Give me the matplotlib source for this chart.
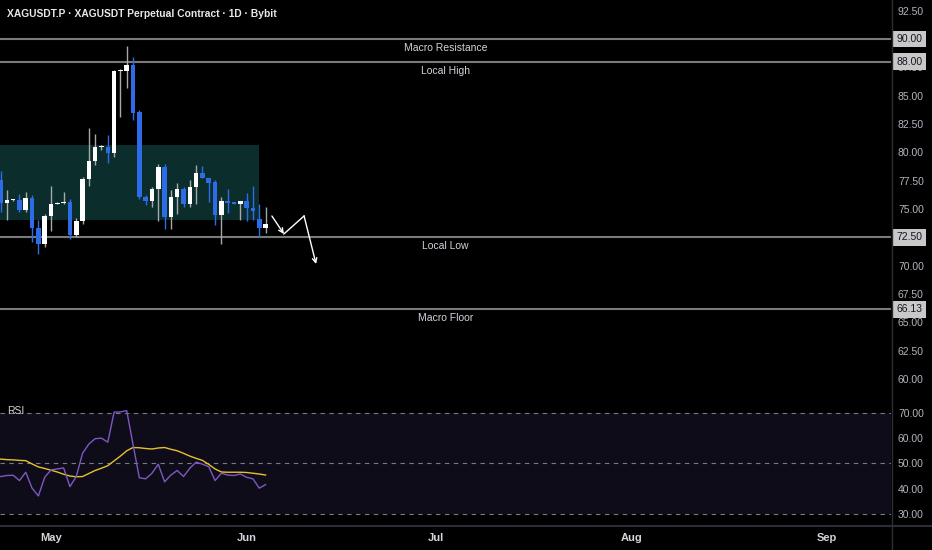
import numpy as np
import pandas as pd
import matplotlib
matplotlib.use('Agg')
import matplotlib.pyplot as plt
import matplotlib.dates as mdates
from matplotlib.lines import Line2D

# daily candles
start_date = '2026-04-23'
opens = [77.56, 75.53, 75.79, 75.79, 74.91, 75.97, 73.32, 71.91, 74.38, 75.44,
         75.53, 75.61, 72.70, 73.94, 77.64, 79.23, 80.47, 80.47, 79.94, 87.18,
         87.18, 87.71, 83.56, 76.05, 75.70, 76.76, 78.70, 74.29, 76.05, 76.76,
         75.44, 76.94, 78.17, 77.73, 77.38, 74.47, 75.70, 75.53, 75.45, 75.70,
         75.08, 74.11, 73.32]
highs = [78.35, 76.67, 75.90, 76.32, 76.50, 76.23, 74.00, 74.55, 77.03, 75.60,
         76.50, 75.88, 74.20, 77.82, 82.14, 81.62, 80.65, 81.53, 87.26, 87.35,
         89.38, 88.41, 83.73, 76.23, 76.94, 78.97, 78.97, 76.67, 77.29, 76.94,
         77.56, 78.88, 78.79, 77.73, 77.56, 76.05, 76.76, 75.55, 75.72, 76.41,
         77.03, 75.44, 75.17]
lows = [74.70, 74.02, 75.70, 74.73, 74.73, 72.08, 71.02, 71.64, 73.05, 75.40,
        75.44, 72.35, 72.52, 73.67, 77.03, 78.88, 80.20, 79.06, 79.59, 83.12,
        85.68, 82.85, 75.88, 75.35, 75.17, 73.94, 73.23, 73.23, 74.55, 75.17,
        75.17, 75.44, 77.73, 75.61, 73.58, 71.91, 74.64, 75.40, 74.02, 73.94,
        74.02, 72.52, 72.88]
closes = [75.53, 75.79, 75.85, 74.91, 75.97, 73.32, 71.91, 74.38, 75.44, 75.53,
          75.61, 72.70, 73.94, 77.64, 79.23, 80.47, 80.50, 79.94, 87.18, 87.30,
          87.71, 83.47, 76.05, 75.70, 76.76, 78.70, 74.29, 76.05, 76.76, 75.44,
          76.94, 78.17, 77.73, 77.29, 74.47, 75.70, 75.53, 75.45, 75.70, 75.08,
          74.82, 73.32, 73.67]

rsi = [44.8, 45.2, 45.3, 43.2, 46.5, 40.2, 37.1, 44.5, 47.4, 47.8,
       48.2, 40.8, 44.8, 54.0, 57.7, 59.8, 60.0, 58.4, 70.3, 70.4,
       70.9, 57.5, 44.3, 43.9, 46.1, 49.7, 42.7, 45.4, 47.2, 44.8,
       48.1, 50.5, 49.7, 48.7, 43.2, 46.1, 45.4, 45.2, 45.8, 44.5,
       43.9, 40.2, 41.6]
rsi_ma = [51.7, 51.5, 51.4, 51.2, 51.1, 49.8, 48.6, 48.0, 47.3, 46.6,
          45.7, 45.0, 44.7, 44.8, 46.0, 47.2, 48.1, 49.1, 51.0, 52.9,
          55.0, 56.3, 56.2, 55.9, 55.7, 56.1, 56.3, 55.6, 55.0, 54.0,
          52.9, 52.0, 51.2, 49.6, 47.8, 46.6, 46.5, 46.5, 46.5, 46.4,
          46.1, 45.8, 45.4]

levels = [90.00, 88.00, 72.50, 66.13]
level_names = ['Macro Resistance', 'Local High', 'Local Low', 'Macro Floor']

# consolidation box
zone_top = 80.65
zone_bottom = 74.02
zone_end_day = 41.0

# projected path (day offset from first candle, price)
path_days = [43.0, 44.9, 48.1, 50.0]
path_prices = [74.38, 72.79, 74.38, 70.14]

price_ticks = np.arange(60, 93, 2.5)
rsi_ticks = [30, 40, 50, 60, 70]

up_col = '#ffffff'
down_col = '#2e6be6'
txt_col = '#d1d4dc'
plt.rcParams['font.family'] = ['Liberation Sans', 'DejaVu Sans']

dates = pd.date_range(start_date, periods=len(opens), freq='D')
x = mdates.date2num(dates)
x0 = x[0]
o = np.array(opens); h = np.array(highs); l = np.array(lows); c = np.array(closes)
up = c >= o

W, H = 932, 550
fig = plt.figure(figsize=(W / 100, H / 100), dpi=100, facecolor='black')
ax = fig.add_axes([0, 155 / H, 891 / W, 395 / H], facecolor='black')
ax_rsi = fig.add_axes([0, 25 / H, 891 / W, 130 / H], facecolor='black', sharex=ax)

xmin, xmax = x0 - 0.08, x0 + 141.1
ax.set_xlim(xmin, xmax)
ax.set_ylim(58.58, 93.44)

# box
ax.fill_between([xmin, x0 + zone_end_day], zone_bottom, zone_top, color='#0b2e2d', lw=0, zorder=1)

# levels
for lv, name in zip(levels, level_names):
    ax.axhline(lv, color='#7a7a7a', lw=1.5, zorder=2)
    ax.annotate(name, xy=(0.5, lv), xycoords=ax.get_yaxis_transform(),
                xytext=(0, -6.5), textcoords='offset points', ha='center', va='center',
                color=txt_col, fontsize=7.5)

# candles
wick_cols = np.where(up, '#a8a8a8', down_col)
ax.vlines(x, l, h, colors=wick_cols, lw=1, zorder=3)
body_h = np.maximum(np.abs(c - o), 0.12)
body_b = np.minimum(o, c)
ax.bar(x, body_h, bottom=body_b, width=0.72, color=np.where(up, up_col, down_col), lw=0, zorder=4)

# path arrows
px = x0 + np.array(path_days)
ax.annotate('', xy=(px[1], path_prices[1]), xytext=(px[0], path_prices[0]),
            arrowprops=dict(arrowstyle='->', color='white', lw=1, shrinkA=0, shrinkB=0,
                            mutation_scale=8))
ax.plot(px[1:3], path_prices[1:3], color='white', lw=1)
ax.annotate('', xy=(px[3], path_prices[3]), xytext=(px[2], path_prices[2]),
            arrowprops=dict(arrowstyle='->', color='white', lw=1, shrinkA=0, shrinkB=0,
                            mutation_scale=8))

ax.yaxis.tick_right()
ax.set_yticks(price_ticks)
ax.set_yticklabels(['%.2f' % t for t in price_ticks])
ax.tick_params(axis='y', length=0, pad=5, labelsize=7.5, labelcolor='#b2b5be')
ax.tick_params(axis='x', length=0, labelbottom=False)
for s in ax.spines.values():
    s.set_visible(False)

for lv in levels:
    ax.annotate('%.2f' % lv, xy=(1, lv), xycoords=ax.get_yaxis_transform(),
                xytext=(13.5, 0), textcoords='offset points', ha='center', va='center',
                color='#131722', fontsize=7.5, annotation_clip=False,
                bbox=dict(boxstyle='square,pad=0.33', fc='#c8c8c8', ec='none'), zorder=10)

ax.text(7 / 891, 1 - 14 / 395, 'XAGUSDT.P · XAGUSDT Perpetual Contract · 1D · Bybit',
        transform=ax.transAxes, color='#e8e8e8', fontsize=7.4, fontweight='bold',
        ha='left', va='center')

# RSI pane
ax_rsi.set_ylim(25.6, 77.1)
ax_rsi.fill_between([xmin, xmax], 30, 70, color='#0f0c1a', lw=0, zorder=0)
for lv in [70, 50, 30]:
    ax_rsi.axhline(lv, color='#787b86', lw=0.8, ls=(0, (4, 4)), zorder=1)
ax_rsi.plot(x, rsi_ma, color='#e6c229', lw=1, zorder=3)
ax_rsi.plot(x, rsi, color='#7e57c2', lw=1, zorder=4)
ax_rsi.text(7 / 891, 1 - 16 / 130, 'RSI', transform=ax_rsi.transAxes, color=txt_col,
            fontsize=7.5, ha='left', va='center')

ax_rsi.yaxis.tick_right()
ax_rsi.set_yticks(rsi_ticks)
ax_rsi.set_yticklabels(['%.2f' % t for t in rsi_ticks])
ax_rsi.tick_params(axis='y', length=0, pad=5, labelsize=7.5, labelcolor='#b2b5be')
ax_rsi.xaxis.set_major_locator(mdates.MonthLocator())
ax_rsi.xaxis.set_major_formatter(mdates.DateFormatter('%b'))
ax_rsi.tick_params(axis='x', length=0, pad=6, labelsize=8, labelcolor=txt_col)
for lbl in ax_rsi.get_xticklabels():
    lbl.set_fontweight('bold')
for s in ax_rsi.spines.values():
    s.set_visible(False)

# separators
fig.add_artist(Line2D([891.5 / W, 891.5 / W], [0, 1], color='#2a2e39', lw=1))
fig.add_artist(Line2D([0, 1], [24.5 / H, 24.5 / H], color='#2a2e39', lw=1.5))

fig.savefig('out.png', dpi=100, facecolor='black')
